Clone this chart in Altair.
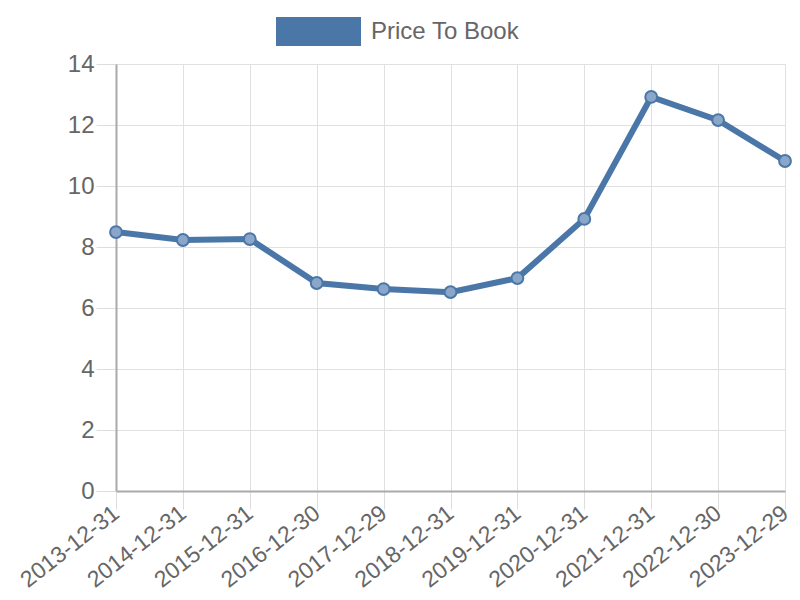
import altair as alt
import pandas as pd

dates = ["2013-12-31", "2014-12-31", "2015-12-31", "2016-12-30", "2017-12-29",
         "2018-12-31", "2019-12-31", "2020-12-31", "2021-12-31", "2022-12-30", "2023-12-29"]
values = [8.49, 8.23, 8.26, 6.82, 6.62, 6.52, 6.98, 8.92, 12.92, 12.16, 10.82]
series_name = "Price To Book"
y_ticks = [0, 2, 4, 6, 8, 10, 12, 14]

df = pd.DataFrame({"date": dates, "value": values, "series": series_name})

COLOR = "#4a77a8"
FONT = "Liberation Sans"

x_enc = alt.X("date:O", sort=dates, title=None,
              scale=alt.Scale(type="point", padding=0),
              axis=alt.Axis(labelAngle=322, labelAlign="right", labelBaseline="middle",
                            labelFontSize=23, labelColor="#666666", labelFont=FONT,
                            labelPadding=1, tickSize=18, tickColor="#dddddd",
                            grid=True, gridColor="#e0e0e0", domainColor="#aaaaaa",
                            domainWidth=2, labelOverlap=False, labelBound=False))
y_enc = alt.Y("value:Q", title=None,
              scale=alt.Scale(domain=[0, 14], nice=False),
              axis=alt.Axis(values=y_ticks, labelFontSize=24, labelColor="#666666",
                            labelFont=FONT, labelPadding=2, tickSize=20,
                            tickColor="#dddddd", gridColor="#e0e0e0",
                            domainColor="#aaaaaa", domainWidth=2))

line = alt.Chart(df).mark_line(strokeWidth=6).encode(
    x=x_enc, y=y_enc,
    color=alt.Color("series:N", scale=alt.Scale(range=[COLOR]),
                    legend=alt.Legend(title=None, orient="none", legendX=160, legendY=-75,
                                      symbolType="M-1,-0.34L1,-0.34L1,0.34L-1,0.34Z",
                                      symbolSize=7225, symbolFillColor=COLOR,
                                      symbolStrokeColor=COLOR, symbolStrokeWidth=0,
                                      labelFontSize=24, labelColor="#666666", labelFont=FONT,
                                      labelOffset=10, padding=0))
)
points = alt.Chart(df).mark_point(filled=True, size=140, fill="#8aa6c8", stroke=COLOR,
                                  strokeWidth=2, opacity=1).encode(x=x_enc, y=y_enc)

chart = alt.layer(line, points).properties(
    width=669, height=427,
    autosize=alt.AutoSizeParams(type="none"),
    padding={"left": 108, "top": 56, "right": 7, "bottom": 103},
).configure_view(stroke=None).configure(font=FONT)

chart.save("out.html", embed_options={"renderer": "svg", "actions": False})
